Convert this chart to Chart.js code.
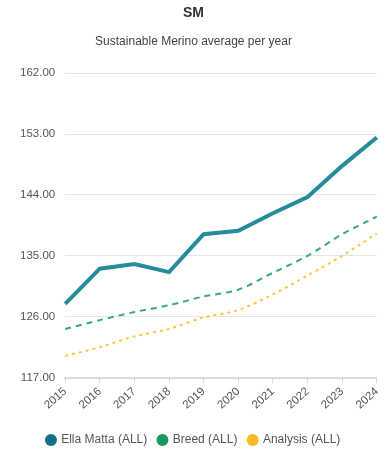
<!DOCTYPE html>
<html>
<head>
<meta charset="utf-8">
<script src="https://cdn.jsdelivr.net/npm/chart.js@4"></script>
<style>
  html, body { margin: 0; padding: 0; background: #fff; }
  #wrap { width: 387px; height: 450px; }
</style>
</head>
<body>
<div id="wrap"><canvas id="smChart"></canvas></div>
<script>
// years on the x axis
const years = ['2015', '2016', '2017', '2018', '2019', '2020', '2021', '2022', '2023', '2024'];

// series
const ellaMatta = [127.9, 133.1, 133.8, 132.6, 138.2, 138.7, 141.3, 143.7, 148.3, 152.5];
const breed     = [124.2, 125.5, 126.7, 127.7, 129.0, 130.0, 132.5, 135.0, 138.2, 140.8];
const analysis  = [120.2, 121.5, 123.1, 124.2, 125.9, 127.0, 129.3, 132.1, 135.0, 138.3];

const yMin = 117, yMax = 162, yStep = 9;
const legendDots = ['#16708c', '#169a62', '#fbb924'];
const FONT = 'Arial, "Liberation Sans"';

const ctx = document.getElementById('smChart');
new Chart(ctx, {
  type: 'line',
  data: {
    labels: years,
    datasets: [
      { label: 'Ella Matta (ALL)', data: ellaMatta, borderColor: '#268c9c', borderWidth: 4, pointRadius: 0, tension: 0 },
      { label: 'Breed (ALL)', data: breed, borderColor: '#3aa97c', borderWidth: 2, borderDash: [6, 5], pointRadius: 0, tension: 0.3 },
      { label: 'Analysis (ALL)', data: analysis, borderColor: '#fcc63a', borderWidth: 2, borderDash: [3, 4], pointRadius: 0, tension: 0.3 }
    ]
  },
  options: {
    responsive: true,
    maintainAspectRatio: false,
    animation: false,
    layout: { padding: { left: 10, right: 10, top: 0, bottom: -6 } },
    plugins: {
      title: { display: true, text: 'SM', color: '#333', font: { family: FONT, size: 14, weight: 'bold' }, padding: { top: 5, bottom: 13 } },
      subtitle: { display: true, text: 'Sustainable Merino average per year', color: '#444', font: { family: FONT, size: 12 }, padding: { bottom: 24 } },
      legend: {
        position: 'bottom',
        labels: {
          usePointStyle: true, pointStyle: 'circle', boxWidth: 8.5, boxHeight: 8.5, padding: 11, color: '#555',
          font: { family: FONT, size: 12 },
          generateLabels: chart => Chart.defaults.plugins.legend.labels.generateLabels(chart).map((l, i) => ({
            ...l, fillStyle: legendDots[i], strokeStyle: legendDots[i], lineWidth: 0, lineDash: []
          }))
        }
      },
      tooltip: { enabled: false }
    },
    scales: {
      x: {
        afterFit: s => { s.height += 10; },
        grid: { display: true, drawOnChartArea: false, drawTicks: true, tickLength: 6, color: '#ddd' },
        border: { color: '#ddd', width: 2 },
        ticks: { color: '#555', maxRotation: 42, minRotation: 42, padding: 1, font: { family: FONT, size: 11.5 } }
      },
      y: {
        min: yMin, max: yMax,
        grid: { color: '#e5e5e5', drawTicks: false, lineWidth: 1 },
        border: { display: false },
        ticks: { stepSize: yStep, color: '#555', padding: 10, font: { family: FONT, size: 11.5 }, callback: v => v.toFixed(2) }
      }
    }
  }
});
</script>
</body>
</html>
